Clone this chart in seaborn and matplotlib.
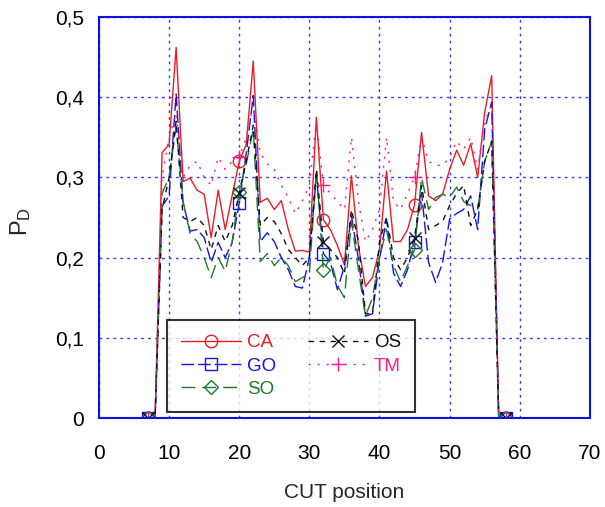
import numpy as np
import pandas as pd
import matplotlib
matplotlib.use("Agg")
import matplotlib.pyplot as plt
import seaborn as sns
from matplotlib.ticker import FuncFormatter

cut_pos = list(range(7, 59))

ca = [0, 0, 0.331, 0.341, 0.462, 0.295, 0.299, 0.284, 0.279, 0.225, 0.284, 0.235, 0.278,
      0.32, 0.341, 0.445, 0.269, 0.274, 0.26, 0.271, 0.235, 0.208, 0.209, 0.207, 0.375,
      0.247, 0.235, 0.215, 0.191, 0.302, 0.214, 0.164, 0.175, 0.21, 0.308, 0.22, 0.22,
      0.235, 0.266, 0.356, 0.277, 0.271, 0.279, 0.31, 0.334, 0.315, 0.342, 0.30, 0.381,
      0.427, 0, 0]
go = [0, 0, 0.264, 0.277, 0.404, 0.268, 0.233, 0.235, 0.225, 0.194, 0.219, 0.2, 0.219,
      0.268, 0.33, 0.402, 0.22, 0.231, 0.22, 0.2, 0.185, 0.164, 0.162, 0.2, 0.302,
      0.205, 0.194, 0.16, 0.189, 0.252, 0.198, 0.127, 0.13, 0.198, 0.248, 0.181, 0.164,
      0.185, 0.22, 0.281, 0.194, 0.169, 0.194, 0.248, 0.255, 0.26, 0.277, 0.235, 0.36,
      0.394, 0, 0]
so = [0, 0, 0.28, 0.3, 0.364, 0.27, 0.23, 0.22, 0.2, 0.175, 0.2, 0.183, 0.22,
      0.282, 0.317, 0.36, 0.195, 0.205, 0.19, 0.2, 0.19, 0.17, 0.175, 0.18, 0.31,
      0.184, 0.2, 0.165, 0.15, 0.245, 0.185, 0.127, 0.15, 0.2, 0.235, 0.19, 0.17,
      0.19, 0.21, 0.3, 0.26, 0.275, 0.279, 0.275, 0.288, 0.27, 0.265, 0.26, 0.32,
      0.345, 0, 0]
os_ = [0, 0, 0.26, 0.3, 0.37, 0.25, 0.245, 0.25, 0.24, 0.21, 0.24, 0.22, 0.24,
       0.28, 0.32, 0.365, 0.24, 0.25, 0.245, 0.23, 0.21, 0.2, 0.19, 0.2, 0.31,
       0.22, 0.21, 0.2, 0.18, 0.26, 0.22, 0.13, 0.13, 0.22, 0.25, 0.2, 0.185,
       0.2, 0.225, 0.29, 0.235, 0.24, 0.245, 0.265, 0.28, 0.29, 0.24, 0.26, 0.32,
       0.345, 0, 0]
tm = [0, 0, 0.3, 0.35, 0.38, 0.3, 0.315, 0.32, 0.3, 0.29, 0.325, 0.31, 0.32,
      0.325, 0.35, 0.39, 0.33, 0.317, 0.31, 0.29, 0.275, 0.255, 0.27, 0.29, 0.37,
      0.29, 0.28, 0.27, 0.26, 0.35, 0.27, 0.22, 0.235, 0.26, 0.35, 0.27, 0.26,
      0.28, 0.3, 0.35, 0.32, 0.315, 0.315, 0.325, 0.345, 0.335, 0.35, 0.31, 0.37,
      0.39, 0, 0]

series = {"CA": ca, "GO": go, "SO": so, "OS": os_, "TM": tm}

styles = {
    "CA": dict(color="#ec1c24", ls="-", marker="o", ms=9),
    "GO": dict(color="#1414e6", ls=(0, (9, 3)), marker="s", ms=8),
    "SO": dict(color="#1e7a2e", ls=(0, (10, 5)), marker="D", ms=7.5),
    "OS": dict(color="#111111", ls=(0, (4, 4)), marker="x", ms=9),
    "TM": dict(color="#ff1a8c", ls=(0, (1.5, 5)), marker="+", ms=10),
}
mark_idx = [0, 13, 25, 38, 51]

sns.set_style("white")
plt.rcParams["font.family"] = ["Liberation Sans", "DejaVu Sans"]

fig = plt.figure(figsize=(6.05, 5.07), dpi=100)
ax = fig.add_axes([0.1636, 0.1755, 0.8114, 0.791])

for name, vals in series.items():
    st = styles[name]
    sns.lineplot(x=cut_pos, y=vals, ax=ax, label=name, color=st["color"],
                 linestyle=st["ls"], linewidth=1.0, marker=st["marker"],
                 markersize=st["ms"], markerfacecolor="none",
                 markeredgecolor=st["color"], markeredgewidth=1.0,
                 markevery=mark_idx)

ax.set_xlim(0, 70)
ax.set_ylim(0, 0.5)
ax.set_xticks(np.arange(0, 71, 10))
ax.set_yticks(np.arange(0, 0.51, 0.1))
ax.yaxis.set_major_formatter(FuncFormatter(lambda v, p: "0" if abs(v) < 1e-9 else f"{v:.1f}".replace(".", ",")))

ax.grid(True, color="#3a3aff", linestyle=(0, (2, 3)), linewidth=1.0)
for sp in ax.spines.values():
    sp.set_color("#1010e0")
    sp.set_linewidth(1.5)
ax.tick_params(axis="both", direction="in", length=4, color="#1010e0",
               labelsize=15, labelcolor="black", width=1.2)
ax.tick_params(axis="x", pad=19)
ax.tick_params(axis="y", pad=11)

ax.set_xlabel("CUT position", fontsize=15)
ax.xaxis.set_label_coords(0.5, -0.162)
ax.set_ylabel(r"$\mathregular{P_D}$", fontsize=17)
ax.yaxis.set_label_coords(-0.135, 0.49)

leg = ax.legend(ncol=2, loc="lower left", bbox_to_anchor=(0.1385, 0.015),
                borderaxespad=0, frameon=True, fancybox=False, edgecolor="black",
                fontsize=13.5, handlelength=3.2, labelcolor="linecolor",
                columnspacing=1.7, borderpad=0.75, labelspacing=0.33,
                handletextpad=0.32)
leg.get_frame().set_linewidth(1.5)

fig.savefig("out.png", dpi=100)
